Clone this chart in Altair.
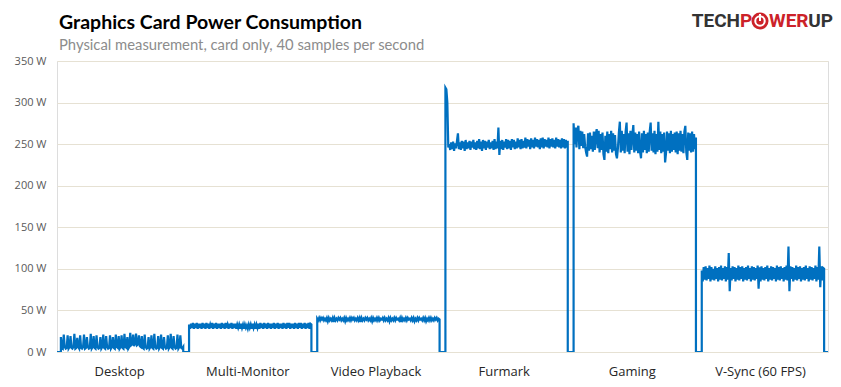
import json
import altair as alt
import pandas as pd

# ---- data ----
TITLE = "Graphics Card Power Consumption"
SUBTITLE = "Physical measurement, card only, 40 samples per second"
CATEGORIES = ["Desktop", "Multi-Monitor", "Video Playback", "Furmark", "Gaming", "V-Sync (60 FPS)"]
Y_TICKS = [0, 50, 100, 150, 200, 250, 300, 350]

desktop = [18, 5, 4, 21, 6, 4, 5, 20,
           4, 6, 19, 5, 4, 6, 22, 4,
           5, 17, 6, 4, 20, 5, 4, 6,
           21, 4, 5, 18, 6, 4, 5, 22,
           4, 6, 19, 5, 4, 20, 6, 4,
           5, 18, 4, 6, 21, 5, 4, 19,
           6, 4, 5, 20, 4, 6, 18, 5,
           4, 21, 6, 5, 19, 4, 6, 20,
           5, 4, 22, 6, 5, 18, 4, 6,
           23, 8, 9, 21, 7, 10, 22, 8,
           9, 20, 7, 6, 19, 5, 4, 21,
           6, 4, 5, 18, 4, 6, 20, 5,
           4, 22, 6, 4, 5, 19, 4, 6,
           21, 5, 4, 18, 6, 4, 5, 20,
           4, 6, 22, 5, 4, 19, 6, 4,
           5, 21, 4, 6, 20, 5, 4, 6]

multi_monitor = [33, 28, 34, 29, 35, 28, 34, 29,
                 35, 28, 34, 29, 34, 28, 35, 29,
                 34, 28, 35, 29, 34, 28, 33, 29,
                 35, 28, 34, 29, 35, 28, 34, 29,
                 34, 28, 35, 29, 34, 28, 35, 29,
                 33, 28, 34, 29, 35, 28, 34, 29,
                 34, 28, 33, 29, 33, 28, 34, 29,
                 33, 28, 33, 29, 32, 28, 33, 29,
                 33, 28, 34, 29, 33, 28, 33, 29,
                 34, 28, 35, 29, 34, 28, 35, 29,
                 34, 28, 35, 29, 34, 28, 34, 29,
                 35, 28, 34, 29, 35, 28, 34, 29,
                 34, 28, 35, 29, 34, 28, 35, 29,
                 35, 28, 34, 29, 34, 28, 35, 29,
                 34, 28, 35, 29, 35, 28, 34, 29,
                 35, 28, 34, 29, 35, 28, 34, 33]

video_playback = [40, 38, 41, 38, 41, 39, 41, 38,
                  40, 38, 41, 37, 41, 38, 40, 38,
                  41, 36, 41, 38, 40, 38, 41, 39,
                  41, 38, 40, 38, 41, 37, 41, 38,
                  40, 38, 41, 38, 41, 39, 41, 38,
                  40, 38, 41, 38, 41, 36, 41, 38,
                  40, 38, 41, 39, 41, 38, 40, 38,
                  41, 37, 41, 38, 40, 38, 41, 38,
                  41, 38, 40, 39, 41, 38, 41, 38,
                  40, 38, 41, 37, 41, 38, 40, 38,
                  41, 38, 41, 39, 40, 38, 41, 36,
                  41, 38, 40, 38, 41, 38, 41, 39,
                  40, 38, 41, 38, 41, 37, 40, 38,
                  41, 38, 41, 39, 40, 38, 41, 38,
                  41, 37, 40, 38, 41, 38, 41, 38,
                  40, 38, 41, 39, 41, 38, 40, 39]

furmark = [318, 316, 300, 246, 250, 243, 252, 244,
           253, 242, 251, 245, 254, 263, 244, 252,
           243, 254, 245, 253, 242, 255, 244, 252,
           245, 254, 243, 253, 246, 255, 244, 252,
           243, 254, 245, 256, 244, 253, 242, 255,
           245, 254, 243, 253, 246, 255, 244, 252,
           245, 254, 243, 256, 244, 253, 245, 270,
           237, 254, 244, 255, 243, 253, 246, 256,
           244, 255, 245, 254, 243, 256, 246, 255,
           244, 253, 245, 257, 246, 255, 244, 256,
           245, 254, 246, 258, 245, 256, 247, 255,
           244, 257, 246, 255, 245, 258, 247, 256,
           246, 255, 244, 257, 246, 258, 245, 256,
           247, 255, 246, 258, 245, 256, 247, 257,
           246, 255, 245, 258, 247, 256, 246, 255,
           245, 257, 246, 256, 245, 255, 246, 254]

gaming = [275, 250, 270, 246, 268, 272, 244, 266,
          248, 265, 245, 262, 247, 240, 235, 263,
          242, 264, 244, 260, 241, 265, 243, 262,
          268, 245, 266, 240, 262, 243, 264, 238,
          231, 260, 241, 265, 239, 262, 244, 266,
          240, 263, 242, 261, 238, 233, 245, 264,
          277, 240, 266, 242, 262, 239, 265, 276,
          241, 263, 238, 266, 243, 261, 273, 240,
          264, 242, 262, 239, 265, 241, 233, 263,
          240, 266, 243, 262, 239, 264, 241, 265,
          276, 242, 263, 240, 266, 238, 262, 241,
          277, 243, 265, 239, 262, 241, 264, 228,
          240, 265, 242, 263, 239, 266, 241, 262,
          243, 264, 240, 265, 238, 263, 242, 266,
          241, 262, 239, 265, 272, 240, 231, 264,
          242, 263, 240, 265, 241, 262, 244, 258]

vsync = [98, 85, 102, 87, 103, 86, 101, 88,
         104, 85, 102, 87, 100, 86, 103, 88,
         101, 85, 102, 87, 104, 86, 101, 88,
         103, 85, 102, 87, 119, 73, 101, 86,
         103, 88, 102, 85, 101, 87, 104, 86,
         102, 88, 103, 85, 101, 87, 102, 86,
         104, 88, 101, 85, 103, 87, 102, 86,
         101, 88, 104, 76, 102, 85, 103, 87,
         101, 86, 102, 88, 104, 85, 101, 87,
         103, 86, 102, 88, 101, 85, 104, 87,
         102, 86, 103, 88, 101, 85, 102, 87,
         104, 86, 127, 73, 103, 88, 102, 85,
         101, 87, 104, 86, 102, 88, 103, 85,
         101, 87, 102, 86, 104, 88, 101, 85,
         103, 87, 102, 86, 101, 88, 104, 85,
         102, 87, 127, 78, 103, 86, 101, 100]

SEGMENTS = [desktop, multi_monitor, video_playback, furmark, gaming, vsync]
PERIOD = 66   # time units per test slot
OFFSET = 2    # idle time before each test starts
SPAN = 63     # running time of each test

# ---- build the trace table ----
rows = [(0.0, 0)]
for k, seg in enumerate(SEGMENTS):
    x0 = k * PERIOD + OFFSET
    step = SPAN / (len(seg) - 1)
    rows.append((x0, 0))
    for j, v in enumerate(seg):
        rows.append((x0 + j * step, v))
    rows.append((x0 + SPAN, 0))
X_END = len(SEGMENTS) * PERIOD + 1
rows.append((X_END, 0))
df = pd.DataFrame(rows, columns=["x", "w"])
df["i"] = range(len(df))

label_pos = [k * PERIOD + 32 for k in range(len(CATEGORIES))]
label_expr = json.dumps(CATEGORIES) + f"[floor(datum.value / {PERIOD})]"

W, H = 771, 291

line = alt.Chart(df).mark_line(color="#0070C0", strokeWidth=2.2, clip=True).encode(
    x=alt.X("x:Q",
            scale=alt.Scale(domain=[0, X_END], nice=False, zero=False),
            axis=alt.Axis(values=label_pos, labelExpr=label_expr, title=None,
                          grid=False, ticks=False, domain=False,
                          labelFont="Open Sans", labelFontSize=13,
                          labelColor="#262626", labelPadding=13)),
    y=alt.Y("w:Q",
            scale=alt.Scale(domain=[0, 350], nice=False),
            axis=alt.Axis(values=Y_TICKS, labelExpr="datum.value + ' W'", title=None,
                          grid=True, gridColor="#E6E1D3", ticks=False, domain=False,
                          labelFont="Open Sans", labelFontSize=11,
                          labelColor="#595959", labelPadding=11)),
    order="i:Q",
)

# ---- titles and TechPowerUp logo (drawn as text) ----
one = alt.Chart(pd.DataFrame({"t": [0]}))
title = one.mark_text(align="left", baseline="alphabetic", font="Lato", fontWeight="bold",
                      fontSize=19.5, color="#000000").encode(
    x=alt.value(2), y=alt.value(-32), text=alt.value(TITLE))
subtitle = one.mark_text(align="left", baseline="alphabetic", font="Lato",
                         fontSize=14.8, color="#8C8C8C").encode(
    x=alt.value(2), y=alt.value(-11), text=alt.value(SUBTITLE))

logo_style = dict(baseline="alphabetic", font="Roboto", fontWeight="bold", fontSize=19)
tech = one.mark_text(align="right", color="#333333", **logo_style).encode(
    x=alt.value(683), y=alt.value(-34), text=alt.value("TECH"))
p_red = one.mark_text(align="left", color="#CC2229", **logo_style).encode(
    x=alt.value(683), y=alt.value(-34), text=alt.value("P"))
wer = one.mark_text(align="left", color="#CC2229", **logo_style).encode(
    x=alt.value(712), y=alt.value(-34), text=alt.value("WER"))
up = one.mark_text(align="right", color="#333333", **logo_style).encode(
    x=alt.value(776), y=alt.value(-34), text=alt.value("UP"))
disk = one.mark_point(shape="circle", filled=True, size=290, color="#CC2229", opacity=1).encode(
    x=alt.value(703), y=alt.value(-40))
ring = one.mark_point(shape="circle", filled=False, size=90, color="white", strokeWidth=2,
                      opacity=1).encode(x=alt.value(703), y=alt.value(-40))
stem = one.mark_rule(color="white", strokeWidth=2).encode(
    x=alt.value(703), y=alt.value(-47), y2=alt.value(-40))

chart = alt.layer(line, title, subtitle, tech, p_red, wer, up, disk, ring, stem).properties(
    width=W, height=H,
    autosize=alt.AutoSizeParams(type="none"),
    padding={"left": 49, "top": 53, "right": 5, "bottom": 27},
).configure_view(stroke="#E1DAC6", fill="#FAFAFA").configure(background="white")

chart.save("out.html", embed_options={"renderer": "svg", "actions": False})
